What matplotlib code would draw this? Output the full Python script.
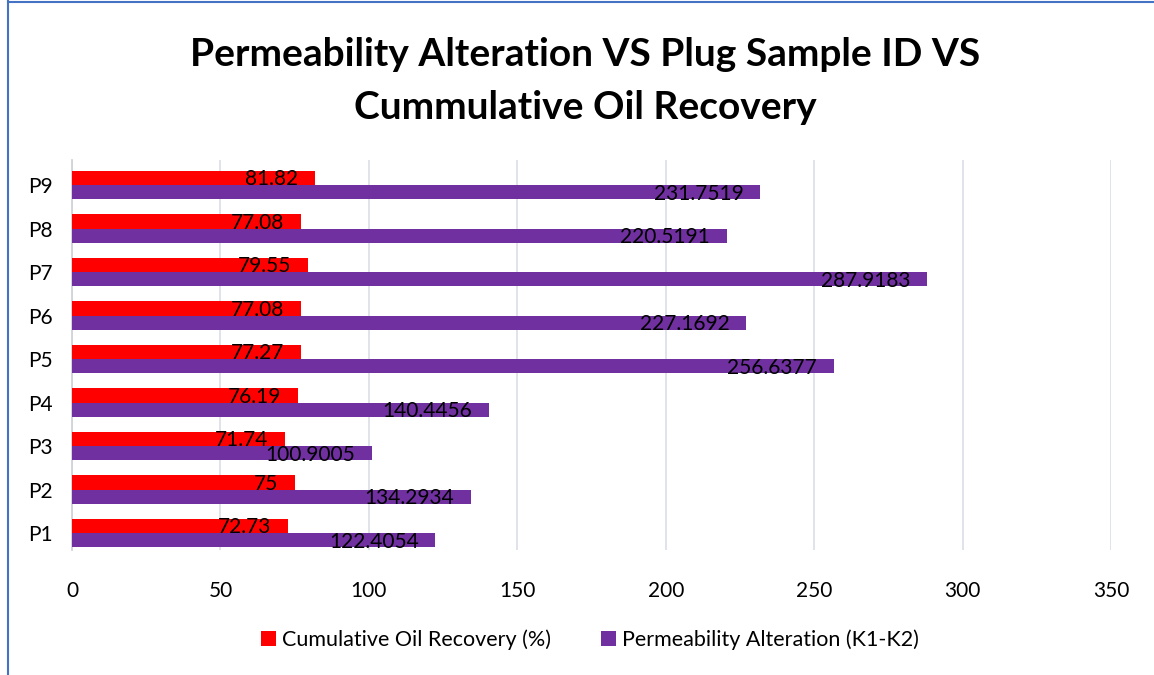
import matplotlib.pyplot as plt
from matplotlib.lines import Line2D
import numpy as np

samples = ["P1", "P2", "P3", "P4", "P5", "P6", "P7", "P8", "P9"]
oil_recovery = [72.73, 75, 71.74, 76.19, 77.27, 77.08, 79.55, 77.08, 81.82]
perm_alteration = [122.4054, 134.2934, 100.9005, 140.4456, 256.6377,
                   227.1692, 287.9183, 220.5191, 231.7519]
oil_labels = ["72.73", "75", "71.74", "76.19", "77.27", "77.08", "79.55", "77.08", "81.82"]
perm_labels = ["122.4054", "134.2934", "100.9005", "140.4456", "256.6377",
               "227.1692", "287.9183", "220.5191", "231.7519"]

plt.rcParams['font.family'] = ['Lato', 'DejaVu Sans']

W, H = 1154, 675
fig = plt.figure(figsize=(W / 100, H / 100), dpi=100)
ax = fig.add_axes([72 / W, 1 - 550 / H, (1111 - 72) / W, 390 / H])

y = np.arange(len(samples))
h = 0.33
red = "#FF0000"
purple = "#7030A0"
ax.barh(y + h / 2, oil_recovery, height=h, color=red, zorder=3,
        label="Cumulative Oil Recovery (%)")
ax.barh(y - h / 2, perm_alteration, height=h, color=purple, zorder=3,
        label="Permeability Alteration (K1-K2)")

for yi, v, t in zip(y, oil_recovery, oil_labels):
    ax.annotate(t, (v, yi + h / 2), xytext=(-12, -1), textcoords="offset points",
                ha="right", va="center", fontsize=15, color="black", zorder=4)
for yi, v, t in zip(y, perm_alteration, perm_labels):
    ax.annotate(t, (v, yi - h / 2), xytext=(-12, -1), textcoords="offset points",
                ha="right", va="center", fontsize=15, color="black", zorder=4)

ax.set_xlim(0, 350)
ax.set_ylim(-0.39, 8.575)
ax.set_xticks(np.arange(0, 351, 50))
ax.set_yticks(y)
ax.set_yticklabels(samples)
ax.tick_params(axis="both", length=0, labelsize=15, colors="black")
ax.tick_params(axis="x", pad=22)
ax.tick_params(axis="y", pad=14)
ax.grid(axis="x", color="#DDE1E8", linewidth=1.3, zorder=0)
for s in ["top", "right", "bottom"]:
    ax.spines[s].set_visible(False)
ax.spines["left"].set_color("#D0D4DA")
ax.spines["left"].set_linewidth(1.3)

fig.text(585 / W, 1 - 81 / H,
         "Permeability Alteration VS Plug Sample ID VS\nCummulative Oil Recovery",
         ha="center", va="center", fontsize=28, fontweight="bold",
         linespacing=1.6)

handles, labels = ax.get_legend_handles_labels()
fig.legend(handles, labels, loc="center", bbox_to_anchor=(590 / W, 1 - 640 / H),
           ncol=2, frameon=False, fontsize=15.5, handlelength=0.7, handleheight=0.7,
           columnspacing=2.3, handletextpad=0.3)

# outer chart border (blue edges)
fig.add_artist(Line2D([8 / W, 8 / W], [0, 1], color="#4472C4", linewidth=1.5))
fig.add_artist(Line2D([8 / W, 1], [1 - 1.5 / H, 1 - 1.5 / H], color="#4472C4", linewidth=1.5))

fig.savefig("out.png", dpi=100)
